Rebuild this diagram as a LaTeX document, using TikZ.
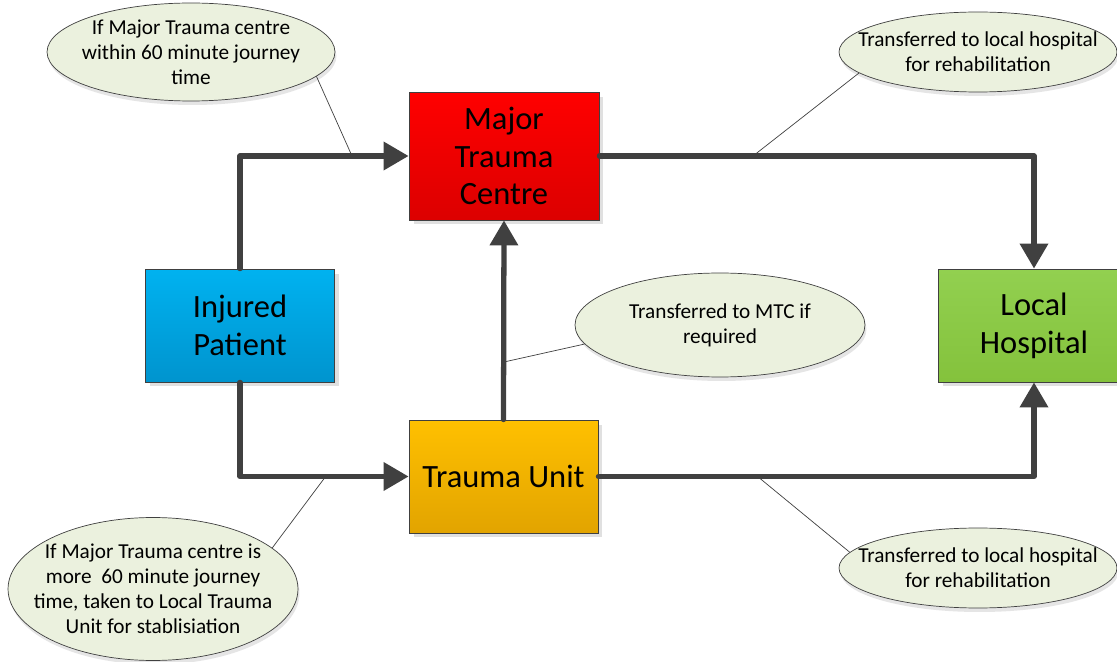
\documentclass[tikz,border=0pt]{standalone}
\usepackage{fontspec}
\setmainfont{Carlito}
\usepackage{tikz}
\usetikzlibrary{shapes.geometric, arrows.meta, shadows}
\definecolor{linegrey}{RGB}{64, 64, 64}
\definecolor{notefill}{RGB}{235, 241, 222}
\definecolor{mtctop}{RGB}{255, 0, 0}
\definecolor{mtcbot}{RGB}{220, 0, 0}
\definecolor{iptop}{RGB}{0, 178, 240}
\definecolor{ipbot}{RGB}{0, 148, 206}
\definecolor{lhtop}{RGB}{146, 208, 80}
\definecolor{lhbot}{RGB}{132, 194, 60}
\definecolor{tutop}{RGB}{255, 192, 0}
\definecolor{tubot}{RGB}{226, 164, 0}

\begin{document}
\begin{tikzpicture}[
    x=0.02cm, y=-0.02cm,
    unitbox/.style={rectangle, draw=linegrey, line width=0.5pt, minimum width=3.78cm, minimum height=2.26cm, align=center, inner sep=0pt, font=\fontsize{18.5}{21.5}\selectfont, drop shadow={shadow xshift=0.09cm, shadow yshift=-0.09cm, fill=black!12, opacity=1}},
    notebubble/.style={ellipse, draw=linegrey, line width=0.4pt, fill=notefill, inner sep=0pt, drop shadow={shadow xshift=0.03cm, shadow yshift=-0.08cm, fill=black!10, opacity=1}},
    notetext/.style={font=\fontsize{12.1}{14.2}\selectfont, align=center, inner sep=0pt},
    flow/.style={-{Triangle[length=0.5cm, width=0.55cm]}, line width=3pt, draw=linegrey, line cap=round, line join=round},
    callout/.style={draw=linegrey, line width=0.4pt}
]
    \path[use as bounding box, fill=white] (0,0) rectangle (1117,662);

    % Care Nodes
    \node[unitbox, top color=mtctop, bottom color=mtcbot, minimum width=3.8cm, minimum height=2.56cm] (mtc) at (504,156) {Major\\Trauma\\Centre};
    \node[unitbox, top color=iptop, bottom color=ipbot] (ip) at (240,325.5) {Injured\\Patient};
    \node[unitbox, top color=lhtop, bottom color=lhbot, minimum width=3.84cm] (lh) at (1034,325.5) {Local\\Hospital};
    \node[unitbox, top color=tutop, bottom color=tubot] (tu) at (503.5,476.5) {Trauma Unit};

    % Arrows
    \draw[flow] (ip.north) |- (mtc.west);
    \draw[flow] (ip.south) |- (tu.west);
    \draw[flow] (tu.north) -- (mtc.south);
    \draw[flow] (mtc.east) -| (lh.north);
    \draw[flow] (tu.east) -| (lh.south);

    % Notes
    \node[notebubble, minimum width=5.76cm, minimum height=1.96cm, label={[notetext]center:If Major Trauma centre\\within 60 minute journey\\time}] (tlnote) at (191,52) {};
    \node[notebubble, minimum width=5.56cm, minimum height=1.6cm, label={[notetext]center:Transferred to local hospital\\for rehabilitation}] (trnote) at (978,52) {};
    \node[notebubble, minimum width=5.8cm, minimum height=2.08cm, label={[notetext]center:Transferred to MTC if\\required}] (midnote) at (720,325) {};
    \node[notebubble, minimum width=5.8cm, minimum height=2.86cm, label={[notetext]center:If Major Trauma centre is\\more\ \ 60 minute journey\\time, taken to Local Trauma\\Unit for stablisiation}] (blnote) at (153,589) {};
    \node[notebubble, minimum width=5.56cm, minimum height=1.6cm, label={[notetext]center:Transferred to local hospital\\for rehabilitation}] (brnote) at (978,568) {};

    % Callout lines
    \coordinate (tlmark) at (352,156);
    \coordinate (trmark) at (753,156);
    \coordinate (midmark) at (504,362);
    \coordinate (blmark) at (326,476);
    \coordinate (brmark) at (757,476);
    \draw[callout] (tlnote.-11) -- (tlmark);
    \draw[callout] (trnote.-170) -- (trmark);
    \draw[callout] (midnote.-172) -- (midmark);
    \draw[callout] (blnote.19) -- (blmark);
    \draw[callout] (brnote.173) -- (brmark);
\end{tikzpicture}
\end{document}
